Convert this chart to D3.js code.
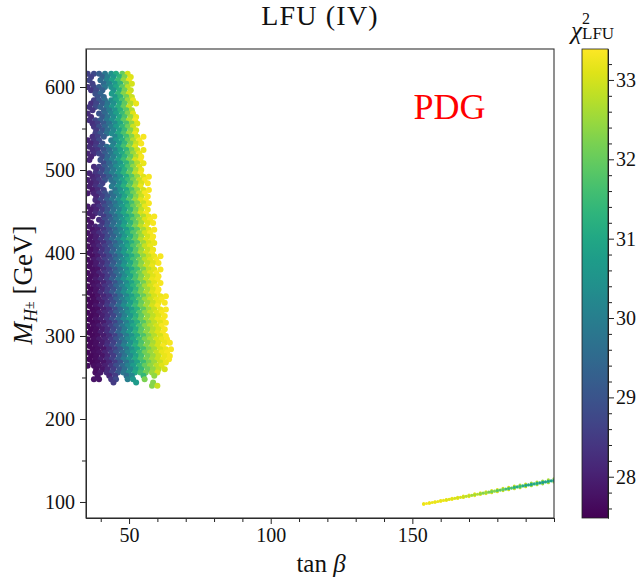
<!DOCTYPE html>
<html><head><meta charset="utf-8">
<script src="https://cdn.jsdelivr.net/npm/d3@7"></script>
<style>html,body{margin:0;background:#fff}svg{display:block}text{font-family:"Liberation Serif",serif;fill:#111}</style>
</head><body><svg id="c" width="639" height="584"></svg>
<script>
const title = "LFU (IV)", note = "PDG";
const xTicks = [50, 100, 150], xMinor = [40,60,70,80,90,110,120,130,140,160,170,180,190,200];
const yTicks = [100,200,300,400,500,600], yMinor = [150,250,350,450,550];
const cTicks = [28,29,30,31,32,33];
const cMinor = [27.6,27.8,28.2,28.4,28.6,28.8,29.2,29.4,29.6,29.8,30.2,30.4,30.6,30.8,31.2,31.4,31.6,31.8,32.2,32.4,32.6,32.8,33.2];
// The cloud holds thousands of unreadable dots: it is given as chi2 estimates read by eye on a set of
// tan(beta) columns (four hand-typed column sets, used in turn) for each mass row below.
const tanBetaSets = [
 [35.4,37.6,39.4,41.5,43.7,45.4,47.6,49.5,51.4,53.6,55.5,57.4,59.6,61.5,63.4,65.0],
 [36.6,38.4,40.6,42.4,44.5,46.7,48.4,50.6,52.5,54.3,56.6,58.5,60.4,62.6,64.4],
 [36.0,38.1,39.9,42.1,43.9,46.1,48.0,49.9,52.1,54.0,55.9,58.1,60.0,61.9,64.1],
 [37.1,38.9,41.1,43.0,45.1,46.9,49.1,51.0,52.9,55.1,57.0,58.9,61.1,63.0,64.8]];
const massRows = [616,612,608,604,600,596,592,588,584,580,576,572,568,564,560,556,552,548,544,540,536,532,528,524,520,516,512,508,504,500,496,492,488,484,480,476,472,468,464,460,456,452,448,444,440,436,432,428,424,420,416,412,408,404,400,396,392,388,384,380,376,372,368,364,360,356,352,348,344,340,336,332,328,324,320,316,312,308,304,300,296,292,288,284,280,276,272,268,264,260,256,252,248,244,240];
const chiRows = [
[28.6,28.8,29.2,29.8,30.5,31.1,32.0,33.0],
[28.6,null,29.3,30.0,30.6,31.3,32.2,33.1],
[28.7,null,29.5,30.1,30.8,31.5,32.4,33.2],
[28.6,null,29.5,30.1,30.7,31.4,32.3,33.0],
[28.4,28.7,29.2,29.8,30.4,31.0,31.9,32.8],
[28.4,28.8,29.3,null,30.5,31.2,32.1,32.9],
[null,28.9,29.4,null,30.7,31.4,32.3,33.0],
[null,29.0,29.4,null,30.6,31.3,32.1,32.9],
[null,28.6,29.1,29.6,30.3,30.9,31.7,32.5,33.2],
[28.3,28.7,29.2,29.8,30.4,31.1,31.9,32.7,33.2],
[28.4,28.8,29.3,29.9,30.6,31.2,32.0,32.9],
[28.4,null,29.3,29.9,30.5,31.2,31.9,32.7],
[28.2,null,29.0,29.5,30.2,30.8,31.5,32.3,33.1],
[28.2,null,29.1,29.7,30.3,31.0,31.7,32.5,33.2],
[28.3,28.7,29.2,29.8,30.4,31.1,31.9,32.7,33.3],
[28.3,28.6,29.1,29.7,30.3,31.0,31.7,32.4,33.1],
[null,28.4,28.9,29.4,30.0,30.7,31.4,32.1,32.9],
[null,28.5,29.0,29.6,30.2,30.8,31.5,32.3,33.0],
[null,28.6,29.1,29.7,30.3,31.0,31.7,32.5,33.2],
[28.3,28.6,29.1,null,30.2,30.9,31.6,32.3,33.0,33.3],
[28.1,28.4,28.8,null,29.9,30.6,31.2,32.0,32.7,33.3],
[28.1,28.4,28.9,null,30.0,30.7,31.4,32.2,32.9,33.3],
[28.2,28.5,29.0,29.6,30.2,30.9,31.6,32.4,33.1],
[28.2,28.4,28.9,29.5,30.1,30.8,31.4,32.2,32.9,33.2],
[28.1,28.3,28.7,29.2,29.8,30.5,31.1,31.8,32.5,33.2],
[28.1,null,28.8,29.4,30.0,30.6,31.3,32.0,32.7,33.3],
[28.1,null,28.9,29.5,30.1,30.8,31.5,32.2,33.0,33.3],
[null,null,28.8,29.4,30.0,30.6,31.3,32.0,32.7,33.2],
[null,28.2,28.6,29.1,29.7,30.4,31.0,31.7,32.4,33.1],
[null,28.3,28.7,29.3,29.9,30.5,31.2,31.8,32.6,33.2],
[28.1,28.4,28.8,29.4,30.0,30.6,31.3,32.0,32.8,33.3],
[28.1,28.3,28.7,29.2,29.8,30.4,31.1,31.8,32.5,33.1,33.3],
[28.0,28.2,28.5,29.0,29.6,30.2,30.9,31.5,32.2,32.9,33.3],
[28.0,28.2,28.6,null,29.7,30.3,31.0,31.7,32.4,33.0,33.3],
[28.0,28.3,28.7,null,29.9,30.5,31.2,31.9,32.6,33.2],
[27.9,28.2,28.6,null,29.7,30.4,31.0,31.7,32.4,33.0,33.3],
[27.9,28.1,28.5,28.9,29.5,30.1,30.8,31.4,32.1,32.8,33.3],
[null,28.1,28.6,29.0,29.6,30.2,30.9,31.6,32.3,32.9,33.3],
[null,28.2,28.7,29.2,29.8,30.4,31.1,31.8,32.5,33.1,33.3],
[null,28.1,28.6,29.1,29.7,30.3,30.9,31.6,32.3,32.9,33.3],
[27.9,28.1,28.4,28.9,29.4,30.0,30.7,31.3,32.0,32.6,33.2],
[27.9,28.1,28.5,29.0,29.6,30.1,30.8,31.4,32.1,32.8,33.2],
[27.9,28.2,28.6,29.1,29.7,30.3,31.0,31.6,32.3,33.0,33.3],
[27.9,null,28.5,29.0,29.6,30.2,30.8,31.4,32.1,32.7,33.2,33.3],
[27.8,null,28.3,28.8,29.3,29.9,30.6,31.2,31.9,32.5,33.1,33.3],
[27.8,null,28.4,28.9,29.5,30.0,30.7,31.3,32.0,32.6,33.1,33.3],
[27.9,28.1,28.5,29.0,29.6,30.2,30.9,31.5,32.2,32.8,33.2],
[27.8,28.0,28.4,28.9,29.4,30.0,30.7,31.3,31.9,32.6,33.1,33.3],
[27.8,28.0,28.3,28.7,29.2,29.8,30.5,31.1,31.8,32.4,33.0,33.3],
[27.8,28.0,28.3,28.8,29.3,29.9,30.6,31.2,31.9,32.5,33.0,33.3],
[27.8,28.0,28.4,28.9,29.5,30.1,30.8,31.4,32.0,32.7,33.1,33.3],
[27.8,28.0,28.3,28.8,29.3,29.9,30.6,31.2,31.8,32.5,33.0,33.2],
[27.7,27.9,28.2,28.6,29.1,29.7,30.4,31.0,31.7,32.3,32.9,33.2],
[27.7,27.9,28.3,28.7,29.2,29.8,30.5,31.1,31.8,32.4,32.9,33.2],
[27.8,28.0,28.4,28.8,29.4,30.0,30.7,31.3,31.9,32.6,33.0,33.3],
[27.7,27.9,28.3,28.7,29.2,29.8,30.5,31.1,31.7,32.4,32.9,33.2,33.3],
[27.7,27.9,28.2,28.6,29.0,29.6,30.3,30.9,31.6,32.2,32.8,33.1,33.3],
[27.7,27.9,28.2,28.6,29.1,29.7,30.4,31.0,31.7,32.3,32.8,33.1,33.3],
[27.7,27.9,28.3,28.7,29.3,29.9,30.6,31.2,31.8,32.4,32.9,33.2],
[27.7,27.8,28.2,28.6,29.1,29.7,30.4,31.0,31.6,32.2,32.8,33.1,33.3],
[27.7,27.8,28.1,28.5,28.9,29.5,30.2,30.8,31.5,32.1,32.7,33.1,33.3],
[27.7,27.8,28.1,28.5,29.0,29.6,30.3,30.9,31.6,32.2,32.7,33.1,33.3],
[27.7,27.9,28.2,28.6,29.2,29.8,30.5,31.1,31.7,32.3,32.8,33.2,33.3],
[27.7,27.8,28.1,28.5,29.0,29.6,30.3,30.9,31.5,32.1,32.7,33.1,33.3],
[27.6,27.8,28.0,28.4,28.8,29.4,30.1,30.7,31.3,32.0,32.6,33.0,33.3],
[27.6,27.8,28.1,28.5,28.9,29.5,30.2,30.8,31.4,32.1,32.6,33.0,33.3],
[27.7,27.8,28.2,28.6,29.1,29.7,30.4,31.0,31.6,32.2,32.7,33.1,33.3],
[27.6,27.8,28.1,28.4,28.9,29.5,30.2,30.8,31.4,32.0,32.6,33.0,33.2,33.3],
[27.6,27.7,28.0,28.3,28.7,29.3,30.0,30.6,31.2,31.9,32.5,32.9,33.2,33.3],
[27.6,27.7,28.0,28.4,28.8,29.4,30.1,30.7,31.3,32.0,32.5,32.9,33.2,33.3],
[27.6,27.8,28.1,28.5,29.0,29.6,30.3,30.9,31.5,32.1,32.6,33.0,33.3],
[27.6,27.7,28.0,28.3,28.8,29.4,30.1,30.7,31.3,31.9,32.5,32.9,33.2,33.3],
[27.6,27.7,27.9,28.2,28.6,29.2,29.9,30.5,31.1,31.8,32.4,32.8,33.1,33.3],
[27.6,27.7,28.0,28.3,28.7,29.3,30.0,30.6,31.2,31.9,32.4,32.8,33.1,33.3],
[27.6,27.8,28.0,28.4,28.9,29.5,30.2,30.8,31.4,32.0,32.5,32.9,33.2,33.3],
[27.6,27.7,27.9,28.3,28.7,29.3,30.0,30.6,31.2,31.8,32.4,32.8,33.1,33.3],
[27.6,27.7,27.9,28.2,28.6,29.1,29.8,30.4,31.0,31.7,32.3,32.7,33.0,33.3],
[27.6,27.7,27.9,28.2,28.7,29.2,29.9,30.5,31.1,31.8,32.3,32.7,33.0,33.3],
[27.6,27.7,28.0,28.3,28.8,29.4,30.1,30.7,31.3,31.9,32.4,32.8,33.1,33.3],
[27.6,27.7,27.9,28.2,28.6,29.2,29.9,30.5,31.1,31.7,32.3,32.7,33.0,33.3],
[27.6,27.7,27.9,28.1,28.5,29.0,29.7,30.3,30.9,31.6,32.2,32.6,33.0,33.2,33.3],
[27.6,27.7,27.9,28.2,28.6,29.1,29.8,30.4,31.0,31.7,32.2,32.6,33.0,33.2,33.3],
[27.6,27.7,27.9,28.3,28.7,29.3,30.0,30.6,31.2,31.8,32.3,32.7,33.0,33.3],
[27.6,27.7,27.8,28.2,28.6,29.1,29.8,30.4,31.0,31.6,32.2,32.6,33.0,33.2,33.3],
[27.6,27.7,27.8,28.1,28.5,29.0,29.6,30.2,30.8,31.5,32.1,32.5,32.9,33.2,33.3],
[27.6,27.7,27.8,28.1,28.5,29.1,29.7,30.3,30.9,31.6,32.1,32.5,32.9,33.2,33.3],
[27.6,27.7,27.9,28.2,28.6,29.2,29.9,30.5,31.1,31.7,32.2,32.6,32.9,33.2,33.3],
[27.6,27.7,27.8,28.1,28.5,29.0,29.7,30.3,30.9,31.5,32.1,32.5,32.9,33.2],
[27.7,27.7,27.8,28.0,28.4,28.9,29.5,30.1,30.7,31.4,32.0,32.4,32.8,33.1],
[null,27.7,27.8,28.1,28.5,29.0,29.6,30.2,30.8,31.4,32.0,32.4,32.8,33.0],
[null,27.7,27.9,28.2,28.6,29.1,29.8,30.4,31.0,31.6,32.1,32.5,33.0],
[null,27.8,null,28.1,28.5,null,29.6,30.2,null,31.4,null,32.4],
[null,27.8,27.8,null,28.4,28.8,null,30.0,30.6,null,32.2],
[null,null,null,null,28.5,null,null,null,30.7,null,null,32.3],
[null,null,null,null,null,null,null,null,null,null,null,32.3,32.9]
];
const streakTan = [154,156,158,160,162,164,166,168,170,172,174,176,178,180,182,184,186,188,190,192,194,196,198,200];
const streakMid = [97.6,98.8,100,101.3,102.5,103.8,105,106.2,107.4,108.7,110,111.2,112.4,113.7,115,116.2,117.5,118.7,120,121.2,122.4,123.6,124.9,126];
const streakUpper = [97.7,99.0,100.3,101.7,103.0,104.4,105.7,107.0,108.3,109.7,111.0,112.3,113.6,115.0,116.3,117.6,119.0,120.2,121.6,122.8,124.0,125.3,126.6,127.8];
const streakLower = [97.5,98.6,99.7,100.9,102.0,103.2,104.3,105.4,106.5,107.7,109.0,110.1,111.2,112.4,113.7,114.8,116.0,117.2,118.4,119.6,120.8,121.9,123.2,124.2];
const streakChi = [33.2,33.2,33.2,33.2,33.1,33.1,33.0,32.9,32.8,32.6,32.4,32.5,32.1,31.8,32.0,31.5,31.3,31.5,31.0,30.9,31.1,30.8,31.0,30.7];
const streakEdgeChi = [33.3,33.3,33.3,33.3,33.3,33.3,33.3,33.2,33.3,33.2,33.3,33.2,33.0,33.1,32.9,33.0,32.8,32.6,32.8,32.5,32.6,32.4,32.6,32.4];
const streakTan2 = [155,157,159,161,163,165,167,169,171,173,175,177,179,181,183,185,187,189,191,193,195,197,199];
const streakMid2 = [98.2,99.4,100.6,101.9,103.1,104.4,105.6,106.8,108.0,109.3,110.6,111.8,113.0,114.3,115.6,116.8,118.1,119.3,120.6,121.8,123.0,124.2,125.5];
const streakChi2 = [33.3,33.2,33.2,33.2,33.1,33.0,33.0,32.8,32.6,32.7,32.3,32.2,32.3,31.9,31.6,31.7,31.2,31.2,31.0,31.1,30.8,30.9,30.8];

const svg = d3.select("#c");
const L=86,R=554,T=49,B=518;
const x = d3.scaleLinear().domain([34.8,200]).range([L,R]);
const y = d3.scaleLinear().domain([80.7,645.8]).range([B,T]);
const cy = d3.scaleLinear().domain([27.48,33.39]).range([B,T]);
const col = d3.scaleSequential(d3.interpolateViridis).domain([27.48,33.39]);

const defs = svg.append("defs");
defs.append("clipPath").attr("id","pc").append("rect").attr("x",L).attr("y",T).attr("width",R-L).attr("height",B-T);
const grad = defs.append("linearGradient").attr("id","vg").attr("x1",0).attr("x2",0).attr("y1",1).attr("y2",0);
d3.range(0,1.0001,0.05).forEach(t=>grad.append("stop").attr("offset",t).attr("stop-color",d3.interpolateViridis(t)));

const pts=[];
massRows.forEach((m,i)=>{const xs=tanBetaSets[i%4];
  chiRows[i].forEach((c,j)=>{if(c!==null)pts.push({t:xs[j],m,c});});});
const gp = svg.append("g").attr("clip-path","url(#pc)");
gp.selectAll("circle.cloud").data(pts).join("circle").attr("class","cloud")
  .attr("cx",d=>x(d.t)).attr("cy",d=>y(d.m)).attr("r",3.0).attr("fill",d=>col(d.c));

const sp=[];
streakTan.forEach((t,i)=>{
  sp.push({t,m:streakUpper[i],c:streakEdgeChi[i]});
  sp.push({t,m:streakLower[i],c:streakEdgeChi[i]});
});
streakTan.forEach((t,i)=>sp.push({t,m:streakMid[i],c:streakChi[i]}));
streakTan2.forEach((t,i)=>sp.push({t,m:streakMid2[i],c:streakChi2[i]}));
gp.selectAll("circle.streak").data(sp).join("circle").attr("class","streak")
  .attr("cx",d=>x(d.t)).attr("cy",d=>y(d.m)).attr("r",1.6).attr("fill",d=>col(d.c));

const axStyle=g=>{g.selectAll("path,line").attr("stroke","#222").attr("stroke-width",1);
  g.selectAll("text").style("font-size","20px").attr("fill","#111");};
const fmt=d3.format("d");
const gx=svg.append("g").attr("transform",`translate(0,${B})`);
gx.call(d3.axisBottom(x).tickValues(xTicks).tickFormat(fmt).tickSize(6).tickPadding(4).tickSizeOuter(0)).call(axStyle);
const gxm=svg.append("g").attr("transform",`translate(0,${B})`);
gxm.call(d3.axisBottom(x).tickValues(xMinor).tickSize(4).tickFormat("").tickSizeOuter(0)).call(axStyle);
const gy=svg.append("g").attr("transform",`translate(${L},0)`);
gy.call(d3.axisLeft(y).tickValues(yTicks).tickFormat(fmt).tickSize(6).tickPadding(5).tickSizeOuter(0)).call(axStyle);
const gym=svg.append("g").attr("transform",`translate(${L},0)`);
gym.call(d3.axisLeft(y).tickValues(yMinor).tickSize(4).tickFormat("").tickSizeOuter(0)).call(axStyle);
svg.append("rect").attr("x",L).attr("y",T).attr("width",R-L).attr("height",B-T)
  .attr("fill","none").attr("stroke","#333").attr("stroke-width",1.1);

svg.append("rect").attr("x",582).attr("y",T).attr("width",26).attr("height",B-T).attr("fill","url(#vg)");
const gc=svg.append("g").attr("transform","translate(608,0)");
gc.call(d3.axisRight(cy).tickValues(cTicks).tickFormat(fmt).tickSize(6).tickPadding(2).tickSizeOuter(0)).call(axStyle);
const gcm=svg.append("g").attr("transform","translate(608,0)");
gcm.call(d3.axisRight(cy).tickValues(cMinor).tickSize(4).tickFormat("").tickSizeOuter(0)).call(axStyle);
svg.append("rect").attr("x",582).attr("y",T).attr("width",26).attr("height",B-T)
  .attr("fill","none").attr("stroke","#222").attr("stroke-width",0.8);

svg.append("text").attr("x",320).attr("y",25).attr("text-anchor","middle").style("font-size","28px").style("letter-spacing","1.2px").text(title);
svg.append("text").attr("x",449.5).attr("y",119).attr("text-anchor","middle").style("font-size","36px").style("fill","#f00").text(note);

const xl=svg.append("text").attr("x",321).attr("y",572).attr("text-anchor","middle").style("font-size","25px");
xl.append("tspan").text("tan ");xl.append("tspan").attr("font-style","italic").text("β");

const yl=svg.append("text").attr("transform","translate(32,285) rotate(-90)").attr("text-anchor","middle").style("font-size","27px");
yl.append("tspan").attr("font-style","italic").text("M");
yl.append("tspan").attr("font-style","italic").attr("dy",5).style("font-size","18px").text("H");
yl.append("tspan").attr("dy",-3).style("font-size","14px").text("±");
yl.append("tspan").attr("dy",-2).text(" [GeV]");

const ct=svg.append("text").attr("x",571).attr("y",39).style("font-size","25px");
ct.append("tspan").attr("font-style","italic").text("χ");
ct.append("tspan").attr("dy",-15).style("font-size","16px").text("2");
ct.append("tspan").attr("dx",-8).attr("dy",15).style("font-size","17px").text("LFU");
</script></body></html>
